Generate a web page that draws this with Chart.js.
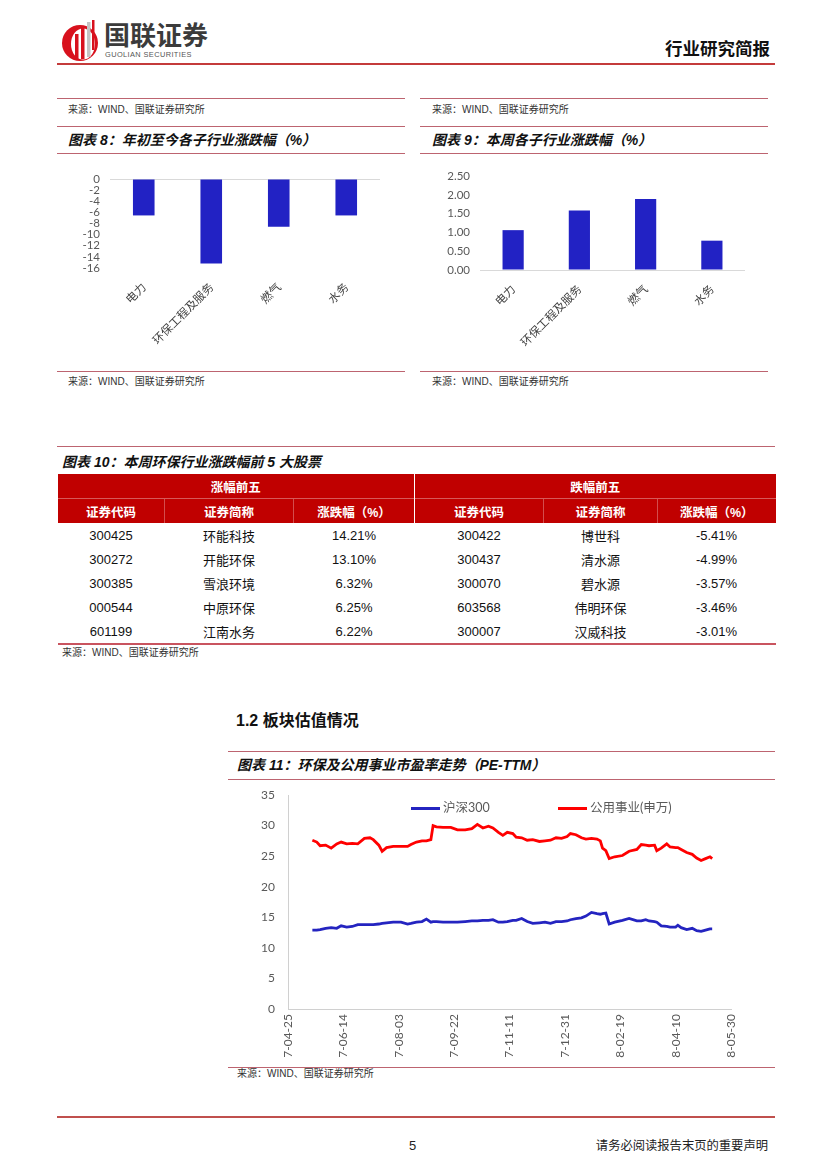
<!DOCTYPE html>
<html lang="zh">
<head>
<meta charset="UTF-8">
<title>行业研究简报</title>
<script src="https://cdn.jsdelivr.net/npm/chart.js@4"></script>
<style>
body { margin: 0; background: #fff; }
.page { position: relative; width: 827px; height: 1169px; background: #fff; overflow: hidden;
        font-family: "Liberation Sans", "Noto Sans CJK SC", sans-serif; color: #222; }
.rule { position: absolute; height: 1px; background: #bd6470; }
.src { position: absolute; font-size: 10px; line-height: 12px; color: #333; white-space: nowrap; }
.ttl { position: absolute; font-size: 14px; line-height: 18px; font-weight: bold; font-style: italic; color: #111; white-space: nowrap; }
.box { position: absolute; }
.tbl { position: absolute; border-collapse: collapse; table-layout: fixed; font-size: 13px; }
.tbl th { background: #c00000; color: #fff; font-size: 12.5px; font-weight: bold; height: 24px; padding: 0; }
.tbl tr.h2 th { border-top: 1px solid rgba(255,255,255,0.35); border-left: 1px solid rgba(255,255,255,0.3); }
.tbl tr.h1 th + th, .tbl tr.h2 th:nth-child(4) { border-left: 1px solid #fff; }
.tbl td { height: 24px; padding: 0; text-align: center; color: #111; }
.tbl tbody tr:last-child td { border-bottom: 2px solid #c9545f; }
.leg { position: absolute; font-size: 12.5px; color: #595959; font-family: Lato, "Noto Sans CJK SC", sans-serif; white-space: nowrap; line-height: 14px; }
.swatch { position: absolute; height: 3px; }
</style>
</head>
<body>
<div class="page">
  <!-- header -->
  <svg class="box" style="left:60px;top:19px" width="42" height="44" viewBox="0 0 42 44">
    <circle cx="20" cy="24" r="18" fill="#d8111d"/>
    <ellipse cx="23" cy="25" rx="12" ry="15.5" fill="#fff"/>
    <rect x="15" y="15" width="3.5" height="25" fill="#d8111d"/>
    <rect x="21" y="9" width="3.5" height="31" fill="#d8111d"/>
    <rect x="27" y="3" width="3.5" height="35" fill="#c4c4c4"/>
    <rect x="32" y="1" width="2.5" height="30" fill="#d8111d"/>
  </svg>
  <div class="box" style="left:104px;top:21px;font-size:26px;line-height:30px;font-weight:bold;color:#3b3b3b;">国联证券</div>
  <div class="box" style="left:105px;top:50px;font-size:7.4px;line-height:9px;color:#555;letter-spacing:0.4px;">GUOLIAN SECURITIES</div>
  <div class="box" style="right:57px;top:38px;font-size:17.5px;line-height:22px;font-weight:bold;color:#111;">行业研究简报</div>
  <div class="rule" style="left:57px;top:63px;width:718px;height:2px;background:#c43b3b;"></div>

  <!-- chart 8 -->
  <div class="rule" style="left:57px;top:98px;width:348px;"></div>
  <div class="src" style="left:68px;top:104px;">来源：WIND、国联证券研究所</div>
  <div class="rule" style="left:57px;top:126px;width:348px;"></div>
  <div class="ttl" style="left:68px;top:131px;">图表 8：年初至今各子行业涨跌幅（%）</div>
  <div class="rule" style="left:57px;top:153px;width:348px;"></div>
  <div class="box" style="left:57px;top:158px;width:348px;height:210px;"><canvas id="ytdChart"></canvas></div>
  <div class="rule" style="left:57px;top:371px;width:348px;"></div>
  <div class="src" style="left:68px;top:376px;">来源：WIND、国联证券研究所</div>

  <!-- chart 9 -->
  <div class="rule" style="left:420px;top:98px;width:348px;"></div>
  <div class="src" style="left:432px;top:104px;">来源：WIND、国联证券研究所</div>
  <div class="rule" style="left:420px;top:126px;width:348px;"></div>
  <div class="ttl" style="left:432px;top:131px;">图表 9：本周各子行业涨跌幅（%）</div>
  <div class="rule" style="left:420px;top:153px;width:348px;"></div>
  <div class="box" style="left:420px;top:158px;width:348px;height:210px;"><canvas id="weekChart"></canvas></div>
  <div class="rule" style="left:420px;top:371px;width:348px;"></div>
  <div class="src" style="left:432px;top:376px;">来源：WIND、国联证券研究所</div>

  <!-- table 10 -->
  <div class="rule" style="left:57px;top:446px;width:718px;"></div>
  <div class="ttl" style="left:62px;top:453px;">图表 10：本周环保行业涨跌幅前 5 大股票</div>
  <table class="tbl" style="left:57px;top:474px;width:718px;">
    <colgroup><col style="width:107px"><col style="width:129px"><col style="width:121px"><col style="width:129px"><col style="width:114px"><col style="width:118px"></colgroup>
    <thead>
      <tr class="h1"><th colspan="3">涨幅前五</th><th colspan="3">跌幅前五</th></tr>
      <tr class="h2"><th>证券代码</th><th>证券简称</th><th>涨跌幅（%）</th><th>证券代码</th><th>证券简称</th><th>涨跌幅（%）</th></tr>
    </thead>
    <tbody id="stockRows"></tbody>
  </table>
  <div class="src" style="left:62px;top:647px;">来源：WIND、国联证券研究所</div>

  <!-- section 1.2 -->
  <div class="box" style="left:236px;top:710px;font-size:16px;line-height:22px;font-weight:bold;color:#111;">1.2 板块估值情况</div>

  <!-- chart 11 -->
  <div class="rule" style="left:228px;top:751px;width:547px;"></div>
  <div class="ttl" style="left:237px;top:756px;">图表 11：环保及公用事业市盈率走势（PE-TTM）</div>
  <div class="rule" style="left:228px;top:779px;width:547px;"></div>
  <div class="box" style="left:228px;top:781px;width:547px;height:284px;"><canvas id="peChart"></canvas></div>
  <div class="swatch" style="left:411px;top:807px;width:29px;background:#2424c0;"></div>
  <div class="leg" style="left:443px;top:801px;">沪深300</div>
  <div class="swatch" style="left:558px;top:807px;width:29px;background:#ff0000;"></div>
  <div class="leg" style="left:590px;top:801px;">公用事业(申万)</div>
  <div class="rule" style="left:228px;top:1067px;width:547px;"></div>
  <div class="src" style="left:237px;top:1068px;">来源：WIND、国联证券研究所</div>

  <!-- footer -->
  <div class="rule" style="left:57px;top:1116px;width:718px;height:2px;background:#c0504d;"></div>
  <div class="box" style="left:409px;top:1138px;font-size:13px;line-height:16px;">5</div>
  <div class="box" style="right:59px;top:1139px;font-size:12.3px;line-height:15px;color:#222;">请务必阅读报告末页的重要声明</div>
</div>

<script>
// 图表8 / 图表9
const subIndustries = ['电力', '环保工程及服务', '燃气', '水务'];
const ytdChange = [-6.55, -15.2, -8.6, -6.55];
const weekChange = [1.06, 1.58, 1.89, 0.78];

// 图表10
const gainCodes = ['300425', '300272', '300385', '000544', '601199'];
const gainNames = ['环能科技', '开能环保', '雪浪环境', '中原环保', '江南水务'];
const gainPct = ['14.21%', '13.10%', '6.32%', '6.25%', '6.22%'];
const lossCodes = ['300422', '300437', '300070', '603568', '300007'];
const lossNames = ['博世科', '清水源', '碧水源', '伟明环保', '汉威科技'];
const lossPct = ['-5.41%', '-4.99%', '-3.57%', '-3.46%', '-3.01%'];

// 图表11
const peTickDates = ['2017-04-25', '2017-06-14', '2017-08-03', '2017-09-22', '2017-11-11',
                     '2017-12-31', '2018-02-19', '2018-04-10', '2018-05-30'];
const peDates = ['2017-05-17','2017-05-21','2017-05-24','2017-05-29','2017-06-03','2017-06-08','2017-06-12','2017-06-17',
  '2017-06-22','2017-06-27','2017-07-03','2017-07-08','2017-07-11','2017-07-16','2017-07-19','2017-07-23','2017-07-29',
  '2017-08-05','2017-08-11','2017-08-14','2017-08-19','2017-08-24','2017-08-28','2017-09-01','2017-09-03','2017-09-06',
  '2017-09-12','2017-09-19','2017-09-25','2017-10-02','2017-10-08','2017-10-13','2017-10-18','2017-10-23','2017-10-27',
  '2017-11-01','2017-11-05','2017-11-09','2017-11-14','2017-11-17','2017-11-22','2017-11-27','2017-12-02','2017-12-08',
  '2017-12-13','2017-12-18','2017-12-23','2017-12-28','2018-01-02','2018-01-05','2018-01-10','2018-01-15','2018-01-19',
  '2018-01-24','2018-01-29','2018-02-01','2018-02-03','2018-02-06','2018-02-09','2018-02-14','2018-02-21','2018-02-27',
  '2018-03-06','2018-03-10','2018-03-14','2018-03-17','2018-03-22','2018-03-24','2018-03-28','2018-04-02','2018-04-05',
  '2018-04-10','2018-04-12','2018-04-15','2018-04-20','2018-04-25','2018-04-29','2018-05-03','2018-05-07','2018-05-11',
  '2018-05-13'];
const hs300 = [12.9,12.9,13.0,13.2,13.3,13.2,13.6,13.4,13.5,13.8,13.8,13.8,13.8,13.9,14.0,14.1,14.2,
  14.2,13.9,14.0,14.2,14.3,14.7,14.2,14.3,14.3,14.2,14.2,14.2,14.3,14.4,14.4,14.5,14.5,14.6,
  14.2,14.2,14.3,14.5,14.5,14.8,14.3,14.0,14.1,14.2,14.0,14.3,14.3,14.4,14.6,14.8,14.9,15.2,
  15.8,15.6,15.5,15.6,15.7,13.9,14.2,14.5,14.8,14.4,14.4,14.6,14.4,14.3,14.2,13.6,13.5,13.4,
  13.4,13.7,13.3,13.0,13.2,12.8,12.7,12.9,13.1,13.1];
const utilitiesSW = [27.6,27.3,26.7,26.8,26.3,27.0,27.3,27.0,27.1,27.0,27.9,28.0,27.7,26.8,25.8,26.4,26.6,
  26.6,26.6,26.9,27.3,27.5,27.5,27.7,30.0,29.8,29.7,29.7,29.3,29.3,29.5,30.2,29.6,29.9,29.6,
  28.9,28.4,28.9,28.7,28.1,28.0,27.6,27.7,27.4,27.5,27.6,28.0,27.9,28.2,28.7,28.5,28.0,27.8,
  27.9,27.8,27.5,26.3,25.9,24.6,24.9,25.1,25.8,26.1,26.9,26.8,26.7,26.8,25.9,26.3,27.0,26.5,
  26.4,26.4,26.1,25.6,25.3,24.7,24.3,24.6,24.9,24.6];

// table rows
const tbody = document.getElementById('stockRows');
for (let i = 0; i < gainCodes.length; i++) {
    const tr = document.createElement('tr');
    [gainCodes[i], gainNames[i], gainPct[i], lossCodes[i], lossNames[i], lossPct[i]].forEach(function(t) {
        const td = document.createElement('td');
        td.textContent = t;
        tr.appendChild(td);
    });
    tbody.appendChild(tr);
}

const tickGrey = '#595959';

function barChart(id, values, o) {
    new Chart(document.getElementById(id), {
        type: 'bar',
        data: {
            labels: subIndustries,
            datasets: [{ data: values, backgroundColor: '#2222c4', barPercentage: 0.32, categoryPercentage: 1 }]
        },
        options: {
            responsive: true,
            maintainAspectRatio: false,
            animation: false,
            layout: { padding: { top: o.top, right: o.right, left: 0, bottom: 0 } },
            plugins: { legend: { display: false }, tooltip: { enabled: false } },
            scales: {
                x: {
                    grid: { display: false, drawTicks: false },
                    border: { display: false },
                    ticks: { maxRotation: 45, minRotation: 45, padding: 12, color: '#404040',
                             font: { family: '"Noto Sans CJK SC"', size: 11.5 } },
                    afterFit: function(s) { s.height = o.xh; }
                },
                y: {
                    min: o.min, max: o.max,
                    border: { display: false },
                    grid: { drawTicks: false, color: function(c) { return c.tick && c.tick.value === 0 ? '#d9d9d9' : 'transparent'; } },
                    ticks: { stepSize: o.step, autoSkip: false, padding: 10, color: tickGrey,
                             font: { family: 'Lato', size: o.fs }, callback: o.fmt },
                    afterFit: function(s) { s.width = o.yw; }
                }
            }
        }
    });
}

barChart('ytdChart', ytdChange, { min: -16, max: 0, step: 2, top: 21, right: 25, xh: 100, yw: 53, fs: 11.5,
    fmt: function(v) { return v; } });
barChart('weekChart', weekChange, { min: 0, max: 2.5, step: 0.5, top: 18, right: 23, xh: 98, yw: 60, fs: 11.5,
    fmt: function(v) { return v.toFixed(2); } });

// 图表11
const day0 = Date.UTC(2017, 3, 25);
function dayOf(s) {
    const p = s.split('-').map(Number);
    return (Date.UTC(p[0], p[1] - 1, p[2]) - day0) / 86400000;
}

new Chart(document.getElementById('peChart'), {
    type: 'line',
    data: {
        datasets: [
            { label: '沪深300', data: peDates.map(function(d, i) { return { x: dayOf(d), y: hs300[i] }; }),
              borderColor: '#2424c0', borderWidth: 2.8, pointRadius: 0, tension: 0 },
            { label: '公用事业(申万)', data: peDates.map(function(d, i) { return { x: dayOf(d), y: utilitiesSW[i] }; }),
              borderColor: '#ff0000', borderWidth: 2.8, pointRadius: 0, tension: 0 }
        ]
    },
    options: {
        responsive: true,
        maintainAspectRatio: false,
        animation: false,
        layout: { padding: { top: 14, right: 44, left: 0, bottom: 0 } },
        plugins: { legend: { display: false }, tooltip: { enabled: false } },
        scales: {
            x: {
                type: 'linear',
                min: dayOf(peTickDates[0]),
                max: dayOf(peTickDates[peTickDates.length - 1]),
                afterBuildTicks: function(s) { s.ticks = peTickDates.map(function(d) { return { value: dayOf(d) }; }); },
                grid: { display: true, drawOnChartArea: false, drawTicks: false },
                border: { display: true, color: '#d0d0d0', width: 1 },
                ticks: { autoSkip: false, maxRotation: 90, minRotation: 90, padding: 5, color: tickGrey,
                         font: { family: 'Lato', size: 12 },
                         callback: function(v, i) { return peTickDates[i].slice(3); } },
                afterFit: function(s) { s.height = 56; }
            },
            y: {
                min: 0, max: 35,
                grid: { display: true, drawOnChartArea: false, drawTicks: false },
                border: { display: true, color: '#d0d0d0', width: 1 },
                ticks: { stepSize: 5, padding: 13, color: tickGrey, font: { family: 'Lato', size: 12 } },
                afterFit: function(s) { s.width = 60; s.paddingTop = 7; s.paddingBottom = 7; }
            }
        }
    }
});
</script>
</body>
</html>
